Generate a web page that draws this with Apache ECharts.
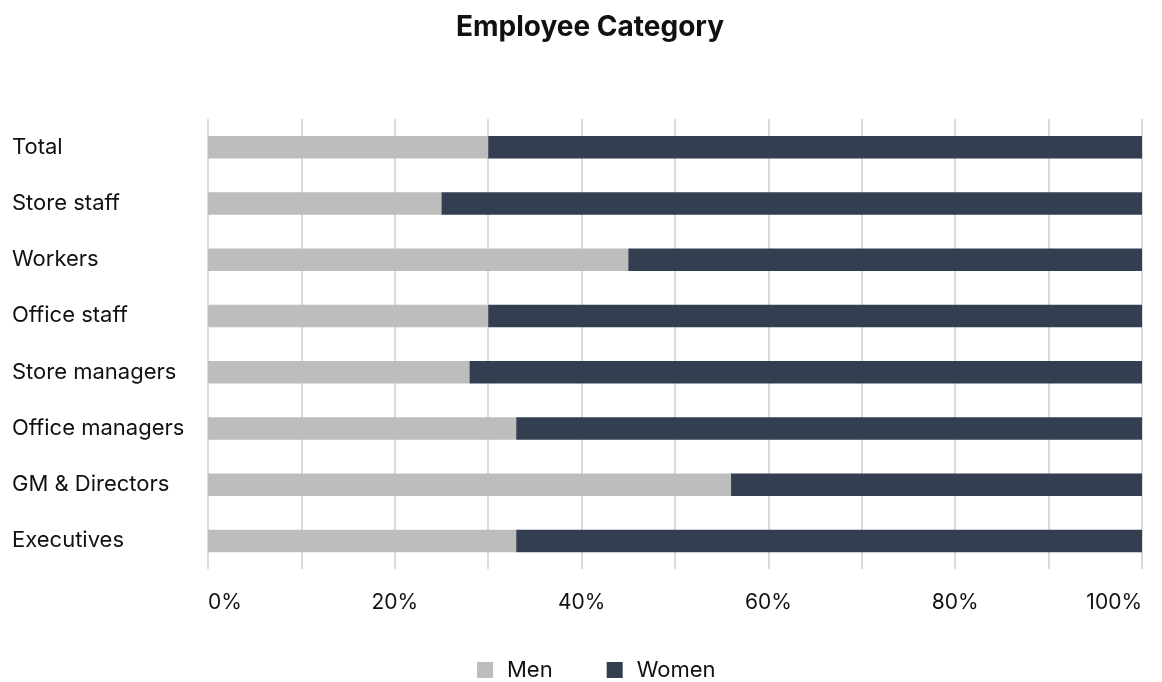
<!DOCTYPE html>
<html>
<head>
<meta charset="utf-8">
<script src="https://cdn.jsdelivr.net/npm/echarts@6/dist/echarts.min.js"></script>
<style>
  html, body { margin: 0; padding: 0; background: #fff; }
  #chart { width: 1162px; height: 682px; }
</style>
</head>
<body>
<div id="chart"></div>
<script>
const categories = ['Total', 'Store staff', 'Workers', 'Office staff', 'Store managers', 'Office managers', 'GM & Directors', 'Executives']
const men = [30, 25, 45, 30, 28, 33, 56, 33]
const women = [70, 75, 55, 70, 72, 67, 44, 67]

const font = 'Inter, "Liberation Sans", sans-serif'
const chart = echarts.init(document.getElementById('chart'))

chart.setOption({
  backgroundColor: '#fff',
  textStyle: { fontFamily: font, color: '#111' },
  title: {
    text: 'Employee Category',
    left: 451, top: 9,
    textStyle: { fontSize: 28, fontWeight: 'bold', color: '#111', fontFamily: font }
  },
  legend: {
    top: 654, left: 472,
    icon: 'rect', itemWidth: 16, itemHeight: 16, itemGap: 54,
    textStyle: { fontSize: 22, color: '#111', padding: [0, 0, 0, 9] },
    data: ['Men', 'Women']
  },
  grid: { left: 208, right: 20, top: 119, bottom: 113, containLabel: false, outerBoundsMode: 'none' },
  xAxis: {
    type: 'value', min: 0, max: 100, interval: 10,
    axisLine: { show: false },
    axisTick: { show: false },
    splitLine: { show: true, lineStyle: { color: '#dadada', width: 2 } },
    axisLabel: {
      margin: 23, fontSize: 21, color: '#111',
      alignMinLabel: 'left', alignMaxLabel: 'right',
      formatter: v => (v % 20 === 0 ? v + '%' : '')
    }
  },
  yAxis: {
    type: 'category', data: categories, inverse: true,
    axisLine: { show: false },
    axisTick: { show: false },
    axisLabel: { align: 'left', margin: 196, fontSize: 22, color: '#111' }
  },
  series: [
    {
      name: 'Men', type: 'bar', stack: 'all', data: men, barWidth: '40%',
      itemStyle: { color: '#bdbdbd' }
    },
    {
      name: 'Women', type: 'bar', stack: 'all', data: women, barWidth: '40%',
      itemStyle: { color: '#333f50' }
    }
  ]
})
</script>
</body>
</html>
